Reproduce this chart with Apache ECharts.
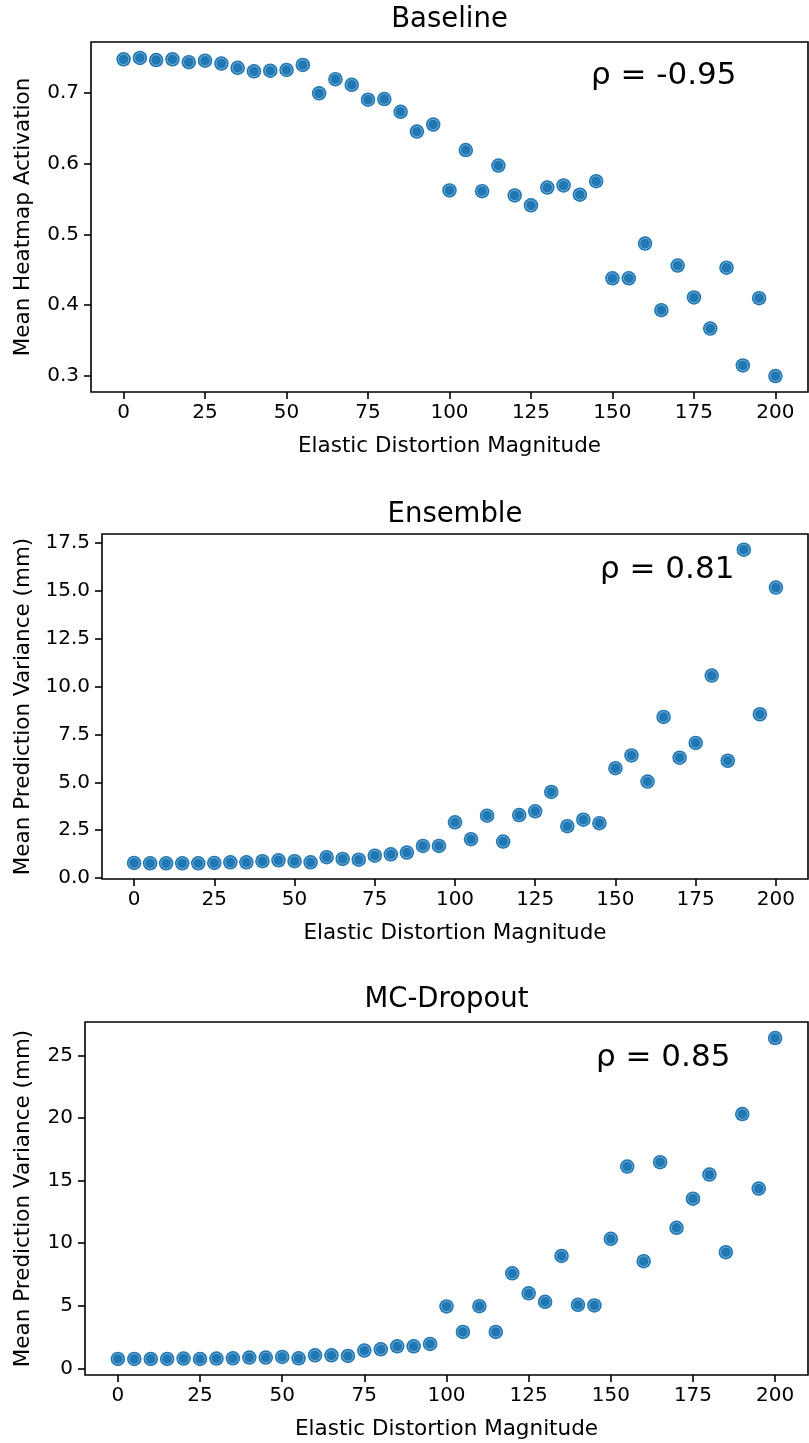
<!DOCTYPE html>
<html>
<head>
<meta charset="utf-8">
<script src="https://cdn.jsdelivr.net/npm/echarts@6/dist/echarts.min.js"></script>
<style>
html,body{margin:0;padding:0;background:#fff;}
#chart{width:809px;height:1443px;}
</style>
</head>
<body>
<div id="chart"></div>
<script>
// ---- data ----
const distortion = [0,5,10,15,20,25,30,35,40,45,50,55,60,65,70,75,80,85,90,95,100,105,110,115,120,125,130,135,140,145,150,155,160,165,170,175,180,185,190,195,200];
const baselineValues = [0.747,0.749,0.746,0.747,0.743,0.745,0.741,0.735,0.730,0.731,0.732,0.739,0.699,0.719,0.711,0.690,0.691,0.673,0.645,0.655,0.562,0.619,0.561,0.597,0.555,0.541,0.566,0.569,0.556,0.575,0.438,0.438,0.487,0.393,0.456,0.411,0.367,0.453,0.315,0.410,0.300];
const ensembleValues = [0.79,0.77,0.77,0.77,0.77,0.79,0.82,0.82,0.88,0.93,0.88,0.82,1.09,1.00,0.96,1.17,1.24,1.33,1.68,1.68,2.91,2.03,3.26,1.91,3.29,3.49,4.50,2.71,3.05,2.87,5.74,6.41,5.04,8.42,6.29,7.06,10.58,6.13,17.16,8.56,15.18];
const mcDropoutValues = [0.75,0.75,0.75,0.75,0.78,0.75,0.78,0.80,0.86,0.86,0.91,0.80,1.04,1.04,0.99,1.42,1.52,1.76,1.76,1.95,4.95,2.91,4.97,2.91,7.59,5.99,5.32,8.98,5.08,5.03,10.35,16.12,8.56,16.47,11.23,13.56,15.48,9.28,20.32,14.36,26.39];
const xTicks = [0,25,50,75,100,125,150,175,200];
const baselineTicks = [0.3,0.4,0.5,0.6,0.7];
const ensembleTicks = [0,2.5,5,7.5,10,12.5,15,17.5];
const mcDropoutTicks = [0,5,10,15,20,25];
const titles = ['Baseline','Ensemble','MC-Dropout'];
const rhoLabels = ['ρ = -0.95','ρ = 0.81','ρ = 0.85'];
const yNames = ['Mean Heatmap Activation','Mean Prediction Variance (mm)','Mean Prediction Variance (mm)'];
const xName = 'Elastic Distortion Magnitude';

// ---- layout ----
const panels = [
  {left:91, top:42, right:808, bottom:392, vals:baselineValues, ticks:baselineTicks, dec:1, nameGap:57, titleY:20, rhoX:591, rhoY:76},
  {left:102, top:534, right:808, bottom:879, vals:ensembleValues, ticks:ensembleTicks, dec:1, nameGap:68, titleY:515, rhoX:600, rhoY:570},
  {left:85, top:1022, right:808, bottom:1375, vals:mcDropoutValues, ticks:mcDropoutTicks, dec:0, nameGap:51, titleY:1000, rhoX:596, rhoY:1058}
];
const FONT = 'DejaVu Sans';
const BLUE = '#1f77b4';

const grid=[], xAxis=[], yAxis=[], series=[], graphic=[];
panels.forEach((p,i)=>{
  grid.push({left:p.left, top:p.top, width:p.right-p.left, height:p.bottom-p.top,
    show:true, borderColor:'#000', borderWidth:1.6, backgroundColor:'transparent', containLabel:false});
  const dmin = Math.min(...p.vals), dmax = Math.max(...p.vals), r = dmax-dmin;
  xAxis.push({type:'value', gridIndex:i, min:-10, max:210, position:'bottom',
    axisLine:{show:false, onZero:false}, splitLine:{show:false},
    axisTick:{show:true, length:7, inside:false, customValues:xTicks, lineStyle:{color:'#000', width:1.6}},
    axisLabel:{show:true, customValues:xTicks, margin:11, color:'#000', fontFamily:FONT, fontSize:20},
    name:xName, nameLocation:'middle', nameGap:43,
    nameTextStyle:{color:'#000', fontFamily:FONT, fontSize:21.5}
  });
  yAxis.push({type:'value', gridIndex:i, min:dmin-0.05*r, max:dmax+0.05*r, position:'left',
    axisLine:{show:false, onZero:false}, splitLine:{show:false},
    axisTick:{show:true, length:7, inside:false, customValues:p.ticks, lineStyle:{color:'#000', width:1.6}},
    axisLabel:{show:true, customValues:p.ticks, margin:12, color:'#000', fontFamily:FONT, fontSize:20,
      formatter:(v)=>Number(v).toFixed(p.dec)},
    name:yNames[i], nameLocation:'middle', nameGap:p.nameGap, nameRotate:90,
    nameTextStyle:{color:'#000', fontFamily:FONT, fontSize:21.5}
  });
  const data = distortion.map((x,j)=>[x, p.vals[j]]);
  series.push({type:'scatter', xAxisIndex:i, yAxisIndex:i, data:data, symbol:'circle', symbolSize:14.5,
    itemStyle:{color:BLUE, opacity:1}, z:2, silent:true});
  series.push({type:'scatter', xAxisIndex:i, yAxisIndex:i, data:data, symbol:'circle', symbolSize:10.5,
    itemStyle:{color:BLUE, borderColor:'rgba(255,255,255,0.5)', borderWidth:0.8, opacity:1}, z:3, silent:true});
  graphic.push({type:'text', style:{x:(p.left+p.right)/2, y:p.titleY, text:titles[i], fill:'#000',
    font:'27.5px "'+FONT+'"', textAlign:'center', textVerticalAlign:'middle'}, z:10});
  graphic.push({type:'text', style:{x:p.rhoX, y:p.rhoY, text:rhoLabels[i], fill:'#000',
    font:'31px "'+FONT+'"', textAlign:'left', textVerticalAlign:'middle'}, z:10});
});

const chart = echarts.init(document.getElementById('chart'), null, {renderer:'canvas'});
chart.setOption({
  animation:false,
  backgroundColor:'#fff',
  grid, xAxis, yAxis, series, graphic
});
</script>
</body>
</html>
